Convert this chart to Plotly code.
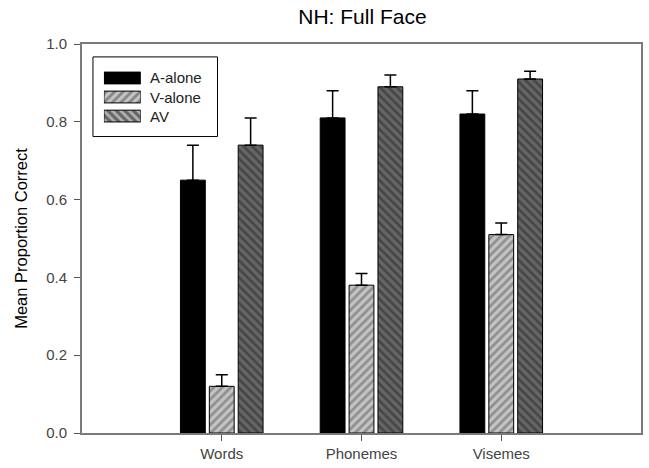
import plotly.graph_objects as go

# ---- data ----
categories = ["Words", "Phonemes", "Visemes"]
series_names = ["A-alone", "V-alone", "AV"]
a_alone = [0.65, 0.81, 0.82]
a_alone_err = [0.09, 0.07, 0.06]
v_alone = [0.12, 0.38, 0.51]
v_alone_err = [0.03, 0.03, 0.03]
av = [0.74, 0.89, 0.91]
av_err = [0.07, 0.03, 0.02]
y_ticks = [0.0, 0.2, 0.4, 0.6, 0.8, 1.0]

values = [a_alone, v_alone, av]
errors = [a_alone_err, v_alone_err, av_err]

# ---- styles ----
bg_colors = ["#000000", "#c4c4c4", "#666666"]
fg_colors = ["#000000", "#5a5a5a", "#262626"]
shapes_pat = ["", "/", "\\"]
FONT = "Arial, Liberation Sans, sans-serif"

fig = go.Figure()

for name, vals, errs, bg, fg, pat in zip(series_names, values, errors, bg_colors, fg_colors, shapes_pat):
    fig.add_trace(go.Bar(
        x=categories, y=vals, name=name,
        marker=dict(color=bg, line=dict(color="#000000", width=1),
                    pattern=dict(shape=pat, fgcolor=fg, bgcolor=bg, size=6, solidity=0.45)),
        error_y=dict(type="data", array=errs, arrayminus=[0] * len(errs), symmetric=False,
                     color="#000000", thickness=1.5, width=6),
        showlegend=False,
    ))

# custom legend swatches (wide rectangles) drawn on a small overlay axis
fig.add_trace(go.Bar(
    x=[1, 1, 1], y=series_names, orientation="h", base=0, width=0.62,
    xaxis="x2", yaxis="y2", showlegend=False, hoverinfo="skip",
    marker=dict(color=bg_colors, line=dict(color="#000000", width=1),
                pattern=dict(shape=shapes_pat, fgcolor=fg_colors, bgcolor=bg_colors,
                             size=6, solidity=0.45)),
))

annotations = [
    dict(text=n, xref="paper", yref="y2", x=0.1176, y=n, xanchor="left", yanchor="middle",
         showarrow=False, font=dict(family=FONT, size=15, color="#222222"))
    for n in series_names
]

fig.update_layout(
    width=649, height=468,
    margin=dict(l=82, r=6, t=44, b=33),
    paper_bgcolor="white", plot_bgcolor="white",
    barmode="group", bargap=0.38, bargroupgap=0.14,
    title=dict(text="NH: Full Face", x=0.5585, xanchor="center", y=0.965, yanchor="middle",
               font=dict(family=FONT, size=21, color="#000000")),
    font=dict(family=FONT),
    xaxis=dict(type="category", range=[-1, 3], showline=True, linecolor="#7a7a7a", linewidth=2,
               mirror=True, ticks="outside", ticklen=6, tickcolor="#555555", tickwidth=1,
               showgrid=False, zeroline=False,
               tickfont=dict(family=FONT, size=15, color="#444444")),
    yaxis=dict(range=[0, 1], tickvals=y_ticks, tickformat=".1f", showline=True,
               linecolor="#7a7a7a", linewidth=2, mirror=True, ticks="outside", ticklen=6,
               tickcolor="#555555", showgrid=False, zeroline=False, ticklabelstandoff=4,
               tickfont=dict(family=FONT, size=15, color="#444444"),
               title=dict(text="Mean Proportion Correct", standoff=14,
                          font=dict(family=FONT, size=16.5, color="#000000"))),
    xaxis2=dict(domain=[0.0392, 0.1052], range=[0, 1], anchor="y2", visible=False, fixedrange=True),
    yaxis2=dict(domain=[0.7903, 0.9371], type="category", categoryorder="array",
                categoryarray=series_names, range=[2.5, -0.5], anchor="x2", visible=False,
                fixedrange=True),
    shapes=[dict(type="rect", xref="paper", yref="paper", x0=0.0196, x1=0.2424,
                 y0=0.7621, y1=0.9668, line=dict(color="#000000", width=1),
                 fillcolor="rgba(0,0,0,0)")],
    annotations=annotations,
)

fig.write_html("out.html", config={"displayModeBar": False},
               post_script="document.body.style.margin='0';")
